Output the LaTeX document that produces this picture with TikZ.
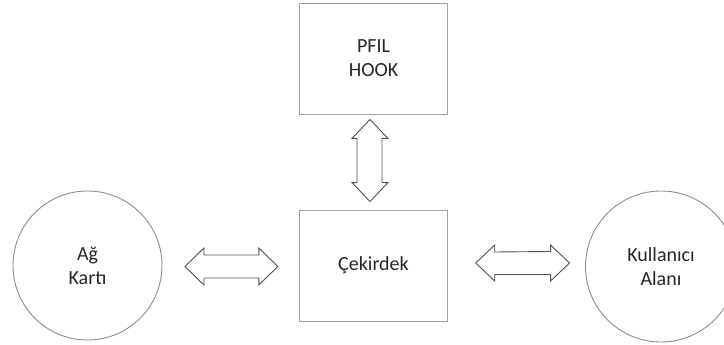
\documentclass[tikz,border=0pt]{standalone}
\usepackage{fontspec}
\setmainfont{Carlito}
\usetikzlibrary{shapes.arrows,calc}
\definecolor{boxline}{HTML}{A0A0A0}
\definecolor{ringline}{HTML}{8C8C8C}
\definecolor{arrowline}{HTML}{505050}
\definecolor{inktext}{HTML}{262626}
\begin{document}
\begin{tikzpicture}[x=1pt,y=-1pt,
  lbl/.style={font=\fontsize{20}{24}\selectfont, text=inktext, align=center},
  block/.style={lbl, draw=boxline, line width=0.9pt, minimum width=148.5pt, minimum height=111pt, inner sep=0pt},
  ring/.style={lbl, draw=ringline, line width=0.9pt, circle, minimum size=149pt, inner sep=0pt},
  flow/.style={draw=arrowline, line width=0.9pt, line join=miter}
]
\useasboundingbox (0,0) rectangle (724,345);
\begin{scope}
\clip (0,0) rectangle (724,345);

% boxes and circles
\node[block] (pfil) at (373.5,58.5) {PFIL\\HOOK};
\node[block] (cek)  at (373.5,265.5) {Çekirdek};
\node[ring]  (ag)   at (87.5,265.5) {Ağ\\Kartı};
\node[ring, minimum size=151pt] (kul) at (661,266.5) {Kullanıcı\\Alanı};

% anchor points for the block arrows
\coordinate (la) at ($(ag.east)+(22.5,1)$);
\coordinate (lb) at ($(cek.west)+(-21,1)$);
\coordinate (ra) at ($(cek.east)+(27.5,-2.5)$);
\coordinate (rb) at ($(kul.west)+(-15.5,-3.5)$);
\coordinate (va) at ($(pfil.south)+(-3.5,5)$);
\coordinate (vb) at ($(cek.north)+(-3.5,-8)$);

% double block arrow between Ağ Kartı and Çekirdek
\draw[flow] (la) -- ++(19,-18.5) -- ++(0,7) -- ($(lb)+(-19,-11.5)$) -- ++(0,-7)
  -- (lb) -- ++(-19,18.5) -- ++(0,-7) -- ($(la)+(19,11.5)$) -- ++(0,7) -- cycle;

% double block arrow between Çekirdek and Kullanıcı Alanı
\draw[flow] (ra) -- ++(19,-18) -- ++(0,7) -- ($(rb)+(-19,-11.5)$) -- ++(0,-6.5)
  -- (rb) -- ++(-19,18) -- ++(0,-6.5) -- ($(ra)+(19,11.5)$) -- ++(0,6.5) -- cycle;

% double block arrow between PFIL HOOK and Çekirdek
\draw[flow] (va) -- ++(18,19) -- ++(-6,0) -- ($(vb)+(12,-19)$) -- ++(6,0)
  -- (vb) -- ++(-18,-19) -- ++(5,0) -- ($(va)+(-13,19)$) -- ++(-5,0) -- cycle;
\end{scope}
\end{tikzpicture}
\end{document}
